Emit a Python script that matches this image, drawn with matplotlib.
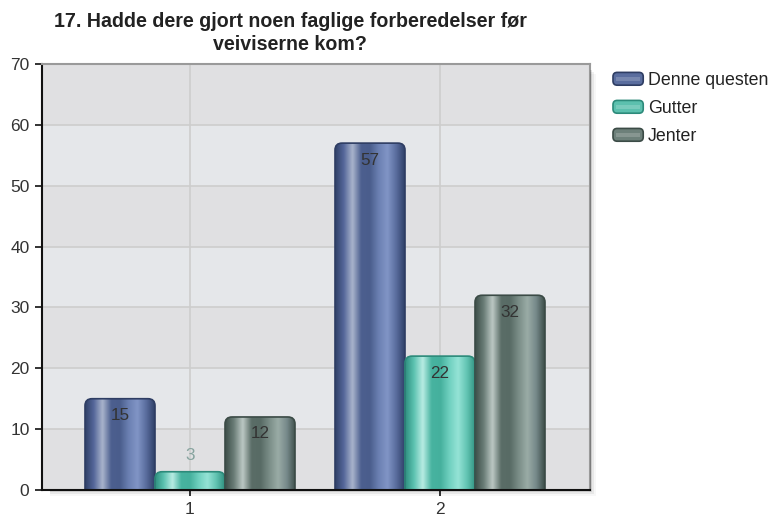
import numpy as np
import matplotlib
matplotlib.use("Agg")
import matplotlib.pyplot as plt
from matplotlib.patches import FancyBboxPatch, Rectangle, Patch
from matplotlib.colors import LinearSegmentedColormap
from matplotlib.legend_handler import HandlerBase

plt.rcParams['font.family'] = ['Liberation Sans', 'DejaVu Sans']

# ---- data ----
title = "17. Hadde dere gjort noen faglige forberedelser før\nveiviserne kom?"
categories = ["1", "2"]
series_names = ["Denne questen", "Gutter", "Jenter"]
denne = [15, 57]
gutter = [3, 22]
jenter = [12, 32]
series_values = [denne, gutter, jenter]
y_ticks = [0, 10, 20, 30, 40, 50, 60, 70]

# ---- style ----
styles = [
    dict(stops=["#2f4068", "#55679a", "#a9b4cc", "#4c5f8f", "#4a5d8c", "#6b80b2", "#8195c6", "#5a6d9e", "#2f4068"],
         edge="#2e3d63", mid="#5a6d9e"),
    dict(stops=["#2e8f7f", "#5cc2b0", "#b8ece3", "#47b3a0", "#45b09d", "#6fd0bf", "#95e3d6", "#62c4b2", "#2e8f7f"],
         edge="#2c8a7a", mid="#5cc0ae"),
    dict(stops=["#3c4d48", "#6a7d77", "#bcc8c4", "#5a6d67", "#586b65", "#7a8d87", "#9aaca6", "#76898a", "#3c4d48"],
         edge="#3b4b46", mid="#6d807a"),
]

W, H = 770, 516
fig = plt.figure(figsize=(W / 100, H / 100), dpi=100)
L, R, T, B = 42, 590, 64, 490
ax = fig.add_axes([L / W, 1 - B / H, (R - L) / W, (B - T) / H])

# shadow around plot area
for i, a in enumerate([0.10, 0.06, 0.03]):
    d = (i + 1) * 2
    fig.patches.append(Rectangle((R / W, 1 - (B + d) / H), d / W, (B - T - 4) / H,
                                 transform=fig.transFigure, color="#000000", alpha=a, lw=0, zorder=0))
    fig.patches.append(Rectangle(((L + 8) / W, 1 - (B + d) / H), (R - L - 8) / W, d / H,
                                 transform=fig.transFigure, color="#000000", alpha=a, lw=0, zorder=0))

ax.set_xlim(-0.592, 1.6)
ax.set_ylim(0, 70)

# background bands
for k, y0 in enumerate(range(0, 70, 10)):
    ax.axhspan(y0, y0 + 10, color="#e0e0e2" if k % 2 == 0 else "#e5e7ea", lw=0, zorder=0)
for y in y_ticks[1:-1]:
    ax.axhline(y, color="#cdcdcd", lw=1.2, zorder=1)
x = np.arange(len(categories))
for xi in x:
    ax.axvline(xi, color="#cdcdcd", lw=1.2, zorder=1)

bw = 0.28
asp = (70 / (B - T)) / (2.192 / (R - L))
rad = 7 / ((R - L) / 2.192)
grad = np.linspace(0, 1, 256).reshape(1, -1)

for s, (vals, st) in enumerate(zip(series_values, styles)):
    cmap = LinearSegmentedColormap.from_list("g%d" % s, st["stops"])
    for xi, v in zip(x, vals):
        cx = xi + (s - 1) * bw
        patch = FancyBboxPatch((cx - bw / 2, -3), bw, v + 3,
                               boxstyle="round,pad=0,rounding_size=%f" % rad,
                               mutation_aspect=asp, facecolor="none",
                               edgecolor=st["edge"], lw=1.2, zorder=3)
        ax.add_patch(patch)
        im = ax.imshow(grad, cmap=cmap, extent=(cx - bw / 2, cx + bw / 2, 0, v),
                       aspect="auto", interpolation="bicubic", zorder=2.9)
        im.set_clip_path(patch)
        if v >= 6:
            ax.annotate(str(v), (cx, v), xytext=(0, -17), textcoords="offset pixels",
                        ha="center", va="center", fontsize=12.3, color="#333333", zorder=5)
        else:
            ax.annotate(str(v), (cx, v), xytext=(0, 16), textcoords="offset pixels",
                        ha="center", va="center", fontsize=12.3, color="#86a39e", zorder=5)

ax.set_xlim(-0.592, 1.6)
ax.set_ylim(0, 70)
ax.set_xticks(x)
ax.set_xticklabels(categories)
ax.set_yticks(y_ticks)
ax.tick_params(axis="both", direction="out", colors="#111111", labelcolor="#333333",
               labelsize=12.5, width=1.2)
ax.tick_params(axis="y", length=5, pad=4)
ax.tick_params(axis="x", length=4, pad=5)

for side in ["left", "bottom"]:
    ax.spines[side].set_color("#111111")
    ax.spines[side].set_linewidth(1.5)
for side in ["top", "right"]:
    ax.spines[side].set_color("#9a9a9a")
    ax.spines[side].set_linewidth(1.5)
for sp in ax.spines.values():
    sp.set_zorder(6)


class GradHandler(HandlerBase):
    def __init__(self, st):
        super().__init__()
        self.st = st

    def create_artists(self, legend, orig_handle, xdescent, ydescent, width, height, fontsize, trans):
        p = FancyBboxPatch((-xdescent, -ydescent), width, height,
                           boxstyle="round,pad=0,rounding_size=3",
                           facecolor=self.st["mid"], edgecolor=self.st["edge"], lw=1.2, transform=trans)
        hl = Rectangle((-xdescent + 2, -ydescent + height * 0.35), width - 4, height * 0.3,
                       facecolor="white", alpha=0.18, lw=0, transform=trans)
        return [p, hl]


handles = [Patch(label=n) for n in series_names]
hmap = {h: GradHandler(st) for h, st in zip(handles, styles)}
fig.legend(handles=handles, labels=series_names, handler_map=hmap,
           loc="upper left", bbox_to_anchor=(613 / W, 1 - 72 / H), frameon=False,
           fontsize=12.8, handlelength=1.7, handleheight=0.73, handletextpad=0.28,
           labelspacing=0.62, borderpad=0, borderaxespad=0, labelcolor="#222222")

fig.text(290 / W, 1 - 12 / H, title, ha="center", va="top", fontsize=14.1,
         fontweight="bold", color="#222222", linespacing=1.25)

fig.savefig("out.png", dpi=100)
